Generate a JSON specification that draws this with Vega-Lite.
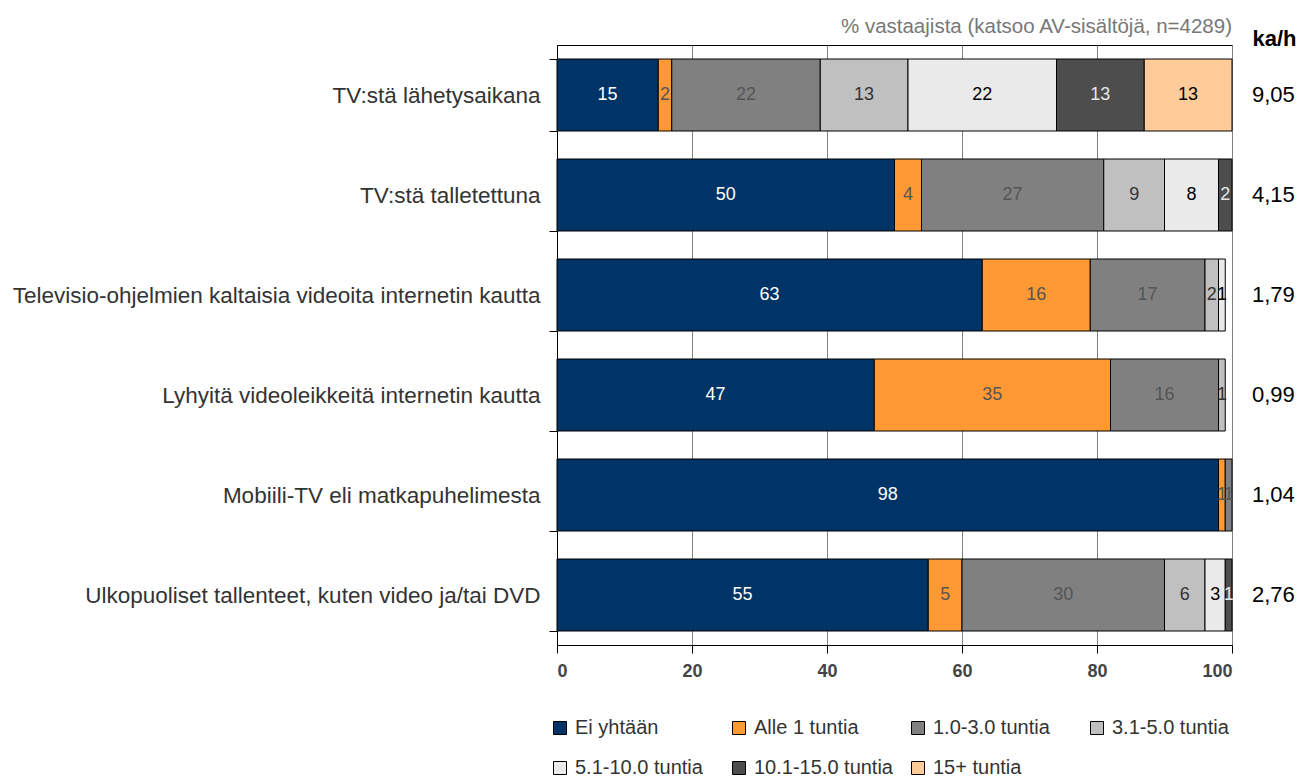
{
  "$schema": "https://vega.github.io/schema/vega-lite/v6.json",
  "width": 675,
  "height": 600,
  "padding": {"left": 12, "top": 16, "right": 10, "bottom": 5},
  "background": "white",
  "config": {
    "font": "Liberation Sans",
    "view": {"stroke": "black", "strokeWidth": 1},
    "locale": {"number": {"decimal": ",", "thousands": " ", "grouping": [3], "currency": ["", " €"]}},
    "title": {"font": "Liberation Sans"}
  },
  "title": {"text": "% vastaajista (katsoo AV-sisältöjä, n=4289)", "anchor": "end", "frame": "group", "fontSize": 20.5, "fontWeight": "normal", "color": "#777777", "offset": -10},
  "layer": [
    {
      "data": {"values": [
        {"cat": "TV:stä lähetysaikana", "group": "Ei yhtään", "value": 15},
        {"cat": "TV:stä lähetysaikana", "group": "Alle 1 tuntia", "value": 2},
        {"cat": "TV:stä lähetysaikana", "group": "1.0-3.0 tuntia", "value": 22},
        {"cat": "TV:stä lähetysaikana", "group": "3.1-5.0 tuntia", "value": 13},
        {"cat": "TV:stä lähetysaikana", "group": "5.1-10.0 tuntia", "value": 22},
        {"cat": "TV:stä lähetysaikana", "group": "10.1-15.0 tuntia", "value": 13},
        {"cat": "TV:stä lähetysaikana", "group": "15+ tuntia", "value": 13},
        {"cat": "TV:stä talletettuna", "group": "Ei yhtään", "value": 50},
        {"cat": "TV:stä talletettuna", "group": "Alle 1 tuntia", "value": 4},
        {"cat": "TV:stä talletettuna", "group": "1.0-3.0 tuntia", "value": 27},
        {"cat": "TV:stä talletettuna", "group": "3.1-5.0 tuntia", "value": 9},
        {"cat": "TV:stä talletettuna", "group": "5.1-10.0 tuntia", "value": 8},
        {"cat": "TV:stä talletettuna", "group": "10.1-15.0 tuntia", "value": 2},
        {"cat": "Televisio-ohjelmien kaltaisia videoita internetin kautta", "group": "Ei yhtään", "value": 63},
        {"cat": "Televisio-ohjelmien kaltaisia videoita internetin kautta", "group": "Alle 1 tuntia", "value": 16},
        {"cat": "Televisio-ohjelmien kaltaisia videoita internetin kautta", "group": "1.0-3.0 tuntia", "value": 17},
        {"cat": "Televisio-ohjelmien kaltaisia videoita internetin kautta", "group": "3.1-5.0 tuntia", "value": 2},
        {"cat": "Televisio-ohjelmien kaltaisia videoita internetin kautta", "group": "5.1-10.0 tuntia", "value": 1},
        {"cat": "Lyhyitä videoleikkeitä internetin kautta", "group": "Ei yhtään", "value": 47},
        {"cat": "Lyhyitä videoleikkeitä internetin kautta", "group": "Alle 1 tuntia", "value": 35},
        {"cat": "Lyhyitä videoleikkeitä internetin kautta", "group": "1.0-3.0 tuntia", "value": 16},
        {"cat": "Lyhyitä videoleikkeitä internetin kautta", "group": "3.1-5.0 tuntia", "value": 1},
        {"cat": "Mobiili-TV eli matkapuhelimesta", "group": "Ei yhtään", "value": 98},
        {"cat": "Mobiili-TV eli matkapuhelimesta", "group": "Alle 1 tuntia", "value": 1},
        {"cat": "Mobiili-TV eli matkapuhelimesta", "group": "1.0-3.0 tuntia", "value": 1},
        {"cat": "Ulkopuoliset tallenteet, kuten video ja/tai DVD", "group": "Ei yhtään", "value": 55},
        {"cat": "Ulkopuoliset tallenteet, kuten video ja/tai DVD", "group": "Alle 1 tuntia", "value": 5},
        {"cat": "Ulkopuoliset tallenteet, kuten video ja/tai DVD", "group": "1.0-3.0 tuntia", "value": 30},
        {"cat": "Ulkopuoliset tallenteet, kuten video ja/tai DVD", "group": "3.1-5.0 tuntia", "value": 6},
        {"cat": "Ulkopuoliset tallenteet, kuten video ja/tai DVD", "group": "5.1-10.0 tuntia", "value": 3},
        {"cat": "Ulkopuoliset tallenteet, kuten video ja/tai DVD", "group": "10.1-15.0 tuntia", "value": 1}
      ]},
      "transform": [
        {"calculate": "indexof(['Ei yhtään','Alle 1 tuntia','1.0-3.0 tuntia','3.1-5.0 tuntia','5.1-10.0 tuntia','10.1-15.0 tuntia','15+ tuntia'], datum.group)", "as": "gi"},
        {"stack": "value", "groupby": ["cat"], "sort": [{"field": "gi", "order": "ascending"}], "as": ["x0", "x1"]},
        {"calculate": "(datum.x0 + datum.x1) / 2", "as": "mid"}
      ],
      "layer": [
        {
          "mark": {"type": "bar", "stroke": "black", "strokeWidth": 1},
          "encoding": {
            "y": {"field": "cat", "type": "nominal", "sort": null,
              "scale": {"paddingInner": 0.28, "paddingOuter": 0.14},
              "axis": {"orient": "left", "title": null, "tickBand": "extent", "labelFontSize": 22.5, "labelColor": "#333333", "tickSize": 8, "tickColor": "black", "domainColor": "black", "labelPadding": 9, "labelLimit": 700, "grid": false}},
            "x": {"field": "x0", "type": "quantitative", "scale": {"domain": [0, 100], "nice": false}, "title": null,
              "axis": {"values": [0, 20, 40, 60, 80, 100], "labelFontWeight": "bold", "labelFontSize": 18, "labelColor": "#444444", "tickSize": 8, "tickColor": "black", "domainColor": "black", "gridColor": "#808080", "grid": true, "labelPadding": 9}},
            "x2": {"field": "x1"},
            "color": {"field": "group", "type": "nominal",
              "scale": {"domain": ["Ei yhtään", "Alle 1 tuntia", "1.0-3.0 tuntia", "3.1-5.0 tuntia", "5.1-10.0 tuntia", "10.1-15.0 tuntia", "15+ tuntia"],
                "range": ["#003366", "#FF9933", "#808080", "#C0C0C0", "#EAEAEA", "#4D4D4D", "#FFCC99"]},
              "legend": {"orient": "none", "direction": "horizontal", "legendX": -7, "legendY": 673, "columns": 4, "gridAlign": "all", "columnPadding": 15, "rowPadding": 20, "symbolType": "square", "symbolSize": 169, "symbolStrokeColor": "black", "symbolStrokeWidth": 1, "symbolOpacity": 1, "labelFontSize": 20, "labelColor": "#333333", "labelOffset": 5, "title": null, "labelLimit": 300}}
          }
        },
        {
          "mark": {"type": "text", "fontSize": 18},
          "encoding": {
            "y": {"field": "cat", "type": "nominal", "sort": null},
            "x": {"field": "mid", "type": "quantitative", "title": null},
            "text": {"field": "value", "type": "quantitative"},
            "color": {"field": "group", "type": "nominal", "legend": null,
              "scale": {"domain": ["Ei yhtään", "Alle 1 tuntia", "1.0-3.0 tuntia", "3.1-5.0 tuntia", "5.1-10.0 tuntia", "10.1-15.0 tuntia", "15+ tuntia"],
                "range": ["#FFFFFF", "#555555", "#555555", "#333333", "#000000", "#E6E6E6", "#000000"]}}
          }
        }
      ],
      "resolve": {"scale": {"color": "independent"}}
    },
    {
      "data": {"values": [
        {"cat": "TV:stä lähetysaikana", "kah": 9.05},
        {"cat": "TV:stä talletettuna", "kah": 4.15},
        {"cat": "Televisio-ohjelmien kaltaisia videoita internetin kautta", "kah": 1.79},
        {"cat": "Lyhyitä videoleikkeitä internetin kautta", "kah": 0.99},
        {"cat": "Mobiili-TV eli matkapuhelimesta", "kah": 1.04},
        {"cat": "Ulkopuoliset tallenteet, kuten video ja/tai DVD", "kah": 2.76}
      ]},
      "mark": {"type": "text", "fontSize": 22, "align": "left", "dx": 20, "color": "black"},
      "encoding": {
        "y": {"field": "cat", "type": "nominal", "sort": null,
          "axis": {"orient": "right", "labels": false, "ticks": false, "domain": false, "grid": false, "title": "ka/h", "titleAngle": 0, "titleFontWeight": "bold", "titleFontSize": 22, "titleColor": "black", "titleAlign": "left", "titleBaseline": "alphabetic", "titleX": 20, "titleY": 0}},
        "x": {"datum": 100, "type": "quantitative"},
        "text": {"field": "kah", "type": "quantitative", "format": ".2f"}
      }
    }
  ],
  "resolve": {"scale": {"color": "independent"}, "axis": {"y": "independent"}}
}
